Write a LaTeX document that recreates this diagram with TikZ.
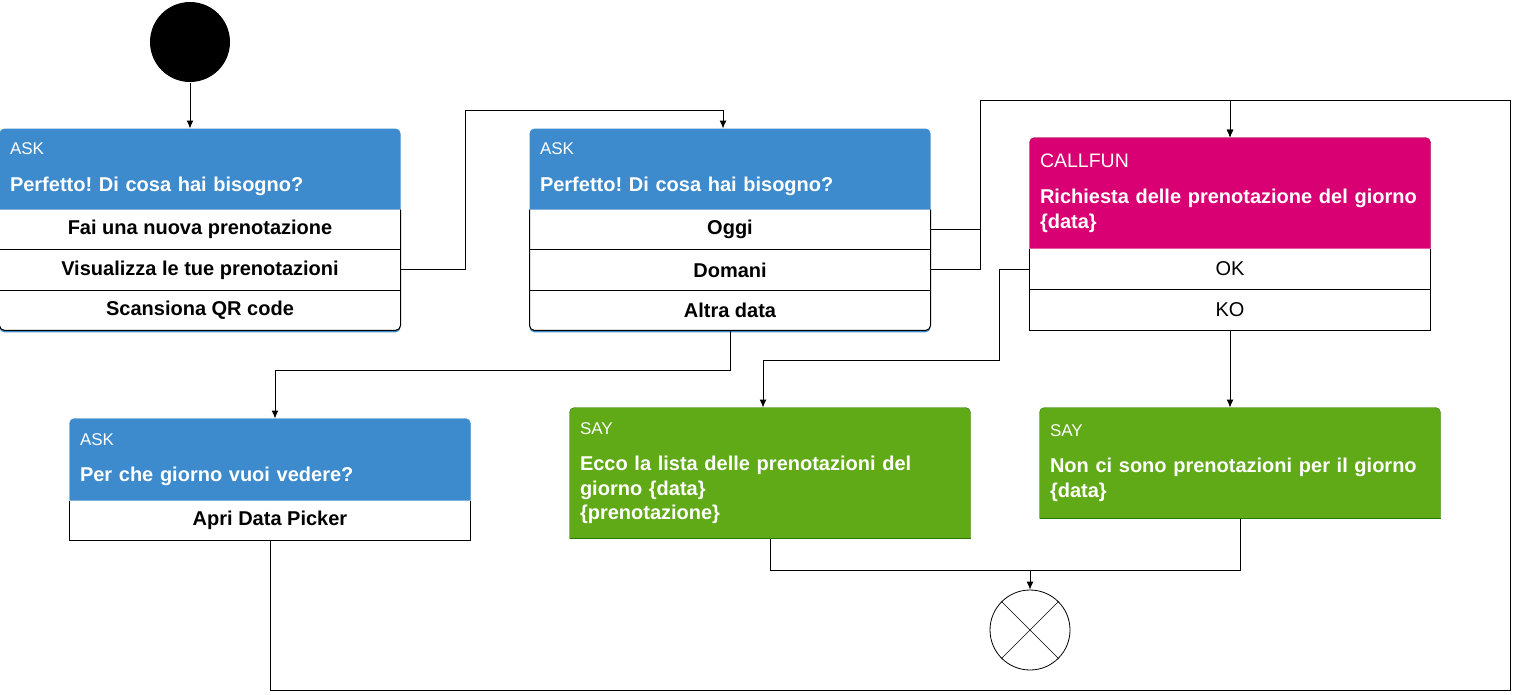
\documentclass[tikz,border=0pt]{standalone}
\usepackage{fontspec}
\setmainfont{Liberation Sans}
\usetikzlibrary{positioning,calc,backgrounds,arrows.meta}
\definecolor{askblue}{HTML}{3D8BCD}
\definecolor{callmag}{HTML}{D80073}
\definecolor{calldark}{HTML}{A50040}
\definecolor{saygreen}{HTML}{60A917}
\definecolor{saydark}{HTML}{2D7600}
\newcommand{\bigtext}{\fontsize{20pt}{24.5pt}\selectfont}
\newcommand{\boxlabel}[1][17pt]{\fontsize{#1}{24.5pt}\selectfont}
\frenchspacing
\tikzset{
  head/.style={minimum width=400pt, text width=380pt, inner xsep=10pt, inner ysep=0pt,
    align=left, text=white, font=\bigtext},
  rowbox/.style={minimum width=400pt, minimum height=#1, inner sep=0pt, font=\bigtext\bfseries},
  rowbox/.default=39.3pt,
  arr/.style={-{Latex[length=8pt,width=7pt]}}
}

\begin{document}
\begin{tikzpicture}[x=1pt, y=-1pt, line width=1pt]
    \useasboundingbox (0,0) rectangle (1514,694);

    \node[circle, fill=black, minimum size=80pt, inner sep=0pt] (start) at (190,42) {};
    \node[circle, draw, line width=0.8pt, minimum size=80pt, inner sep=0pt] (stop) at (1030,630) {};
    \draw[line width=0.6pt] (stop.north west) -- (stop.south east) (stop.north east) -- (stop.south west);

    % first question
    \node[head, minimum height=80pt] (ask1) at (200,169)
      {{\boxlabel ASK}\\[12pt]\textbf{Perfetto! Di cosa hai bisogno?}};
    \node[rowbox, below=0pt of ask1] (ask1a) {Fai una nuova prenotazione};
    \node[rowbox, below=0pt of ask1a] (ask1b) {Visualizza le tue prenotazioni};
    \node[rowbox, below=0pt of ask1b] (ask1c) {Scansiona QR code};

    % which day
    \node[head, minimum height=80pt] (ask2) at (730,169)
      {{\boxlabel ASK}\\[12pt]\textbf{Perfetto! Di cosa hai bisogno?}};
    \node[rowbox, below=0pt of ask2] (ask2a) {Oggi};
    \node[rowbox, below=0pt of ask2a] (ask2b) {Domani};
    \node[rowbox, below=0pt of ask2b] (ask2c) {Altra data};

    \node[head, minimum height=81pt] (ask3) at (270,459.5)
      {{\boxlabel ASK}\\[12pt]\textbf{Per che giorno vuoi vedere?}};
    \node[rowbox=39pt, below=0pt of ask3] (ask3a) {Apri Data Picker};

    % function call and answers
    \node[head, minimum height=110pt] (call) at (1230,193)
      {{\boxlabel[19.5pt]CALLFUN}\\[12pt]\textbf{Richiesta delle prenotazione del giorno}\\\textbf{\{data\}}};
    \node[rowbox=40pt, below=0pt of call, font=\bigtext] (callok) {OK};
    \node[rowbox=40pt, below=0pt of callok, font=\bigtext] (callko) {KO};

    \node[head, minimum height=130pt] (say1) at (770,473)
      {{\boxlabel SAY}\\[12pt]\textbf{Ecco la lista delle prenotazioni del}\\\textbf{giorno \{data\}}\\\textbf{\{prenotazione\}}};
    \node[head, minimum height=110pt] (say2) at (1240,463)
      {{\boxlabel SAY}\\[12pt]\textbf{Non ci sono prenotazioni per il giorno}\\\textbf{\{data\}}};

    \begin{scope}[on background layer]
      \foreach \b/\l in {ask1/ask1c, ask2/ask2c}{
        \fill[askblue, rounded corners=5pt] (\b.north west) rectangle ($(\l.south east)+(0,2)$);
        \fill[white, rounded corners=5pt] (\b.south west) -- (\l.south west) -- (\l.south east) -- (\b.south east);
      }
      \foreach \b/\f/\d in {ask3/askblue/askblue, call/callmag/calldark, say1/saygreen/saydark, say2/saygreen/saydark}
        \filldraw[fill=\f, draw=\d, rounded corners=5pt] (\b.south west) -- (\b.north west) -- (\b.north east) -- (\b.south east);
    \end{scope}

    % frames and row lines
    \foreach \b/\l in {ask1/ask1c, ask2/ask2c}
      \draw[rounded corners=5pt] (\b.south west) -- (\l.south west) -- (\l.south east) -- (\b.south east);
    \draw (ask3.south west) -- (ask3a.south west) -- (ask3a.south east) -- (ask3.south east);
    \draw (call.south west) -- (callko.south west) -- (callko.south east) -- (call.south east);
    \foreach \r in {ask1a, ask1b, ask2a, ask2b, callok}
      \draw (\r.south west) -- (\r.south east);
    \foreach \b in {say1, say2}
      \draw[saydark] (\b.south west) -- (\b.south east);

    % connectors
    \coordinate (j1)  at (465,110);
    \coordinate (top) at (980,100);
    \coordinate (rt)  at (1510,100);
    \coordinate (rb)  at (1510,690);
    \coordinate (j2)  at (275,370);
    \coordinate (j3)  at (763,360);
    \coordinate (j4)  at (1030,570);

    \draw[arr] (start) -- (start |- ask1.north);
    \draw[arr] (ask1b.east) -| (j1) -| ($(ask2.north)+(-7,0)$);
    \draw (ask2a.east) -| (top);
    \draw (ask2b.east) -| (top);
    \draw[arr] (top) -| (call.north);
    \draw[arr] (ask3a.south) |- (rb) -- (rt) -| (call.north);
    \draw[arr] (ask2c.south) |- (j2) -- (j2 |- ask3.north);
    \draw[arr] (callok.west) -- ++(-30,0) |- (j3) -- (j3 |- say1.north);
    \draw[arr] (callko.south) -- (callko.south |- say2.north);
    \draw (say1.south) |- (j4);
    \draw (say2.south) |- (j4);
    \draw[arr] (j4) -- (stop);
\end{tikzpicture}
\end{document}
